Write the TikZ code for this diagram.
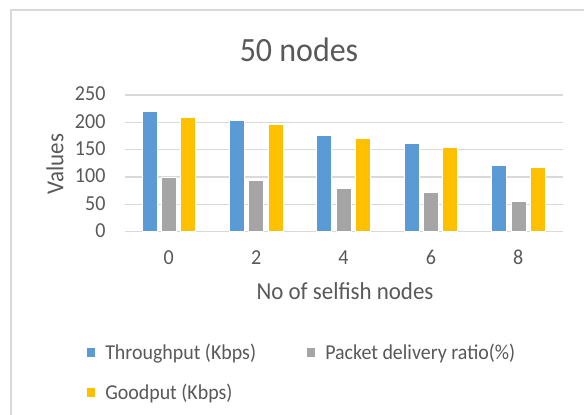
\documentclass[tikz,border=0pt]{standalone}
\usepackage{fontspec}
\setmainfont{Carlito}[FakeStretch=0.94]
\definecolor{txt}{HTML}{595959}
\definecolor{gridc}{HTML}{D9D9D9}
\definecolor{tp}{HTML}{5B9BD5}
\definecolor{pdr}{HTML}{A5A5A5}
\definecolor{gp}{HTML}{FFC000}
\begin{document}
\begin{tikzpicture}[x=0.75pt,y=-0.75pt,
  lbl/.style={text=txt, inner sep=0pt},
  ticklbl/.style={lbl, font=\fontsize{16}{16}\selectfont},
  axtitle/.style={lbl, font=\fontsize{18.3}{18.3}\selectfont},
  legtxt/.style={lbl, anchor=base west, font=\fontsize{15.9}{15.9}\selectfont},
  bar/.style={draw=white, line width=0.4pt},
  gridline/.style={draw=gridc, line width=0.8pt}]
\useasboundingbox (0,0) rectangle (584,414);
\fill[white] (0,0) rectangle (584,414);
% chart frame, running past the right and bottom edges
\begin{scope}
  \clip (0,0) rectangle (584,414);
  \draw[gridc, line width=1.3pt] (11,10) rectangle (640,470);
\end{scope}
% title
\node[lbl, anchor=base, font=\fontsize{25.5}{25.5}\selectfont] (title) at (299,61.7) {50 nodes};
% horizontal grid lines and value labels
\foreach \v in {0,50,...,250}{
  \draw[gridline] (125,{231.7-0.5468*\v}) -- (562.5,{231.7-0.5468*\v});
  \node[ticklbl, anchor=base east] (y\v) at (105.7,{237.4-0.5468*\v}) {\v};
}
% bars: throughput, packet delivery ratio, goodput
\foreach \i/\cat/\a/\b/\c in {0/0/220/100/210, 1/2/204/94/196, 2/4/176/80/170, 3/6/162/73/155, 4/8/121/55/118}{
  \pgfmathsetmacro\cx{168.7+87.4*\i}
  \filldraw[bar, fill=tp]  ({\cx-19.3-7.5},231.7) rectangle ({\cx-19.3+7.5},{231.7-0.5468*\a});
  \filldraw[bar, fill=pdr] ({\cx-7.5},231.7) rectangle ({\cx+7.5},{231.7-0.5468*\b});
  \filldraw[bar, fill=gp]  ({\cx+19.3-7.5},231.7) rectangle ({\cx+19.3+7.5},{231.7-0.5468*\c});
  \node[ticklbl, anchor=base] (x\cat) at (\cx,264.3) {\cat};
}
% axis titles
\node[axtitle, anchor=base] (xtitle) at (345,299.7) {No of selfish nodes};
\node[axtitle, anchor=base, rotate=90] (ytitle) at (63.3,164) {Values};
% legend
\fill[tp]  (86.7,348.3) rectangle (95,357.3);
\node[legtxt] (legtp) at (105,359.7) {Throughput (Kbps)};
\fill[pdr] (306.7,348.3) rectangle (315,357.3);
\node[legtxt] (legpdr) at (325,359.7) {Packet delivery ratio(\%)};
\fill[gp]  (86.7,387.7) rectangle (95,396.7);
\node[legtxt] (leggp) at (105,399.3) {Goodput (Kbps)};
\end{tikzpicture}
\end{document}
